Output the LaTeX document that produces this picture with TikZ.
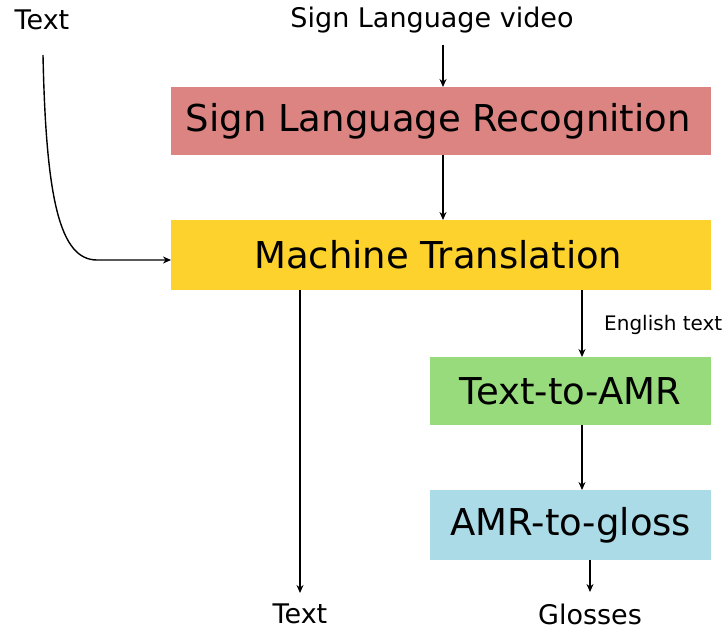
\documentclass[tikz,border=0pt]{standalone}
\usepackage{fontspec}
\setmainfont{DejaVu Sans}
\usetikzlibrary{arrows.meta,calc}
\definecolor{slrred}{RGB}{220,132,130}
\definecolor{mtyellow}{RGB}{253,210,44}
\definecolor{amrgreen}{RGB}{152,219,124}
\definecolor{glossblue}{RGB}{171,219,230}
\tikzset{
  bigbox/.style={draw=none, inner sep=0pt, anchor=north west},
  boxtext/.style={font=\fontsize{37}{40}\selectfont},
  lbl/.style={inner sep=0pt, font=\fontsize{27}{30}\selectfont},
  arr/.style={-{Stealth[length=8pt,width=7pt]}, line width=1.4pt},
}
\begin{document}
\begin{tikzpicture}[x=1pt,y=-1pt]
\useasboundingbox[fill=white] (0,0) rectangle (727,631);
% boxes
\node[bigbox, fill=slrred, minimum width=540pt, minimum height=68pt] (slr) at (171,87) {};
\node[boxtext] at ([xshift=-3pt]slr.center) {Sign Language Recognition};
\node[bigbox, fill=mtyellow, minimum width=540pt, minimum height=70pt] (mt) at (171,220) {};
\node[boxtext] at ([xshift=-3pt]mt.center) {Machine Translation};
\node[bigbox, fill=amrgreen, minimum width=281pt, minimum height=68pt] (tta) at (430,357) {};
\node[boxtext] at (tta.center) {Text-to-AMR};
\node[bigbox, fill=glossblue, minimum width=281pt, minimum height=70pt] (atg) at (430,490) {};
\node[boxtext] at (atg.center) {AMR-to-gloss};
% labels
\node[lbl] (tin) at (42,20) {Text};
\node[lbl] (slv) at (432,20) {Sign Language video};
\node[lbl] (tout) at (300,614) {Text};
\node[lbl] (gl) at (590,614) {Glosses};
\node[inner sep=0pt, font=\fontsize{20}{23}\selectfont, anchor=west] (eng) at (604,325) {English text};
% connectors
\coordinate (c1) at (43,55);
\draw[arr] (c1) .. controls (46,200) and (60,260) .. (97,260) -- (mt.west |- 0,260);
\draw[arr] (443,45) -- (443,0 |- slr.north);
\draw[arr] (443,0 |- slr.south) -- (443,0 |- mt.north);
\draw[arr] (300,0 |- mt.south) -- (300,593);
\draw[arr] (582,0 |- mt.south) -- (582,0 |- tta.north);
\draw[arr] (582,0 |- tta.south) -- (582,0 |- atg.north);
\draw[arr] (590,0 |- atg.south) -- (590,592);
\end{tikzpicture}
\end{document}
